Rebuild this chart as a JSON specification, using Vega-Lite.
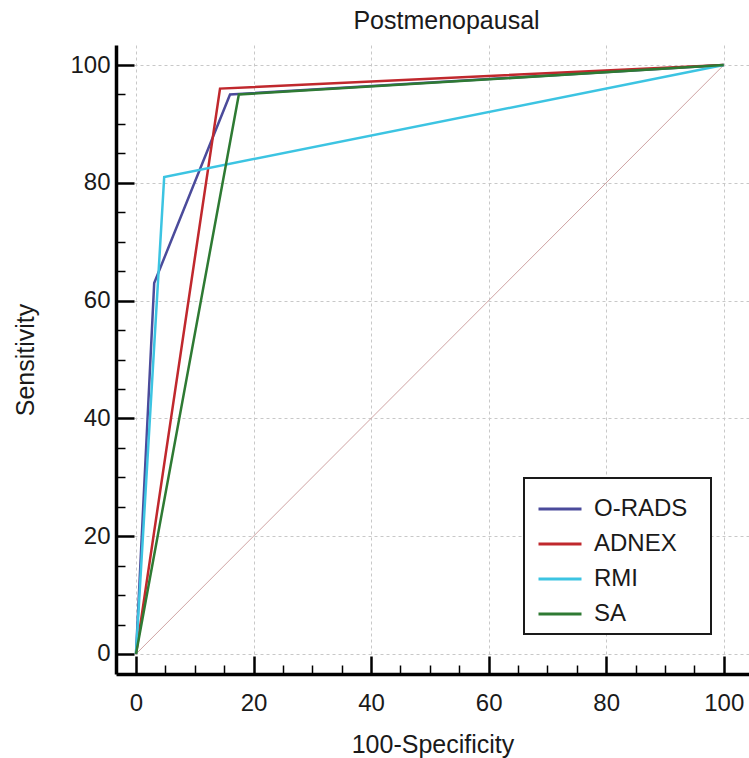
{
  "$schema": "https://vega.github.io/schema/vega-lite/v6.json",
  "width": 633,
  "height": 629,
  "autosize": {"type": "none"},
  "padding": {"left": 116, "top": 45, "right": 0, "bottom": 84},
  "background": "white",
  "title": {"text": "Postmenopausal", "fontSize": 25, "font": "Liberation Sans", "fontWeight": "normal", "offset": 11, "dx": 14, "color": "#1a1a1a"},
  "config": {
    "view": {"stroke": null},
    "font": "Liberation Sans",
    "legend": {"strokeWidth": 2},
    "axis": {
      "values": [0, 5, 10, 15, 20, 25, 30, 35, 40, 45, 50, 55, 60, 65, 70, 75, 80, 85, 90, 95, 100],
      "labelExpr": "datum.value % 20 === 0 ? datum.label : ''",
      "domainColor": "black",
      "domainWidth": 3.5,
      "tickColor": "black",
      "tickWidth": {"condition": {"test": "datum.value % 20 === 0", "value": 2.5}, "value": 1.5},
      "tickSize": {"condition": {"test": "datum.value % 20 === 0", "value": -18}, "value": -9},
      "gridColor": "#c8c8c8",
      "gridDash": [3, 3],
      "gridWidth": 1,
      "gridOpacity": {"condition": {"test": "datum.value % 20 === 0", "value": 1}, "value": 0},
      "labelFontSize": 24,
      "labelColor": "#1a1a1a",
      "labelFont": "Liberation Sans",
      "titleFont": "Liberation Sans",
      "titleFontSize": 25,
      "titleFontWeight": "normal",
      "titleColor": "#1a1a1a",
      "labelOverlap": false
    }
  },
  "layer": [
    {
      "data": {"values": [{"x": 0, "y": 0}, {"x": 100, "y": 100}]},
      "mark": {"type": "line", "color": "#cfa3a3", "strokeWidth": 1},
      "encoding": {
        "x": {"field": "x", "type": "quantitative", "scale": {"domain": [-3.4, 104.3], "nice": false, "zero": false},
              "axis": {"title": "100-Specificity", "labelPadding": 35, "titlePadding": 8}},
        "y": {"field": "y", "type": "quantitative", "scale": {"domain": [-3.4, 103.4], "nice": false, "zero": false},
              "axis": {"title": "Sensitivity", "labelPadding": 24, "titlePadding": 31}}
      }
    },
    {
      "data": {"values": [
        {"model": "O-RADS", "x": 0, "y": 0},
        {"model": "O-RADS", "x": 3.1, "y": 63},
        {"model": "O-RADS", "x": 16, "y": 95},
        {"model": "O-RADS", "x": 100, "y": 100},
        {"model": "ADNEX", "x": 0, "y": 0},
        {"model": "ADNEX", "x": 14.3, "y": 96},
        {"model": "ADNEX", "x": 100, "y": 100},
        {"model": "RMI", "x": 0, "y": 0},
        {"model": "RMI", "x": 4.8, "y": 81},
        {"model": "RMI", "x": 100, "y": 100},
        {"model": "SA", "x": 0, "y": 0},
        {"model": "SA", "x": 17.5, "y": 95},
        {"model": "SA", "x": 100, "y": 100}
      ]},
      "mark": {"type": "line", "strokeWidth": 2.5},
      "encoding": {
        "x": {"field": "x", "type": "quantitative"},
        "y": {"field": "y", "type": "quantitative"},
        "color": {
          "field": "model", "type": "nominal",
          "scale": {"domain": ["O-RADS", "ADNEX", "RMI", "SA"], "range": ["#4b4b9b", "#c0282d", "#3cc4e2", "#2e7a33"]},
          "legend": {
            "title": "\u00a0",
            "titleOrient": "right",
            "titlePadding": 16,
            "titleFontSize": 4,
            "orient": "none",
            "legendX": 408,
            "legendY": 433,
            "strokeColor": "#1a1a1a",
            "padding": 8,
            "symbolOffset": 5,
            "symbolType": "stroke",
            "symbolSize": 1849,
            "symbolStrokeWidth": 3,
            "labelFontSize": 24,
            "labelFont": "Liberation Sans",
            "labelColor": "#1a1a1a",
            "rowPadding": 0,
            "labelOffset": 11,
            "fillColor": "white"
          }
        }
      }
    }
  ]
}
